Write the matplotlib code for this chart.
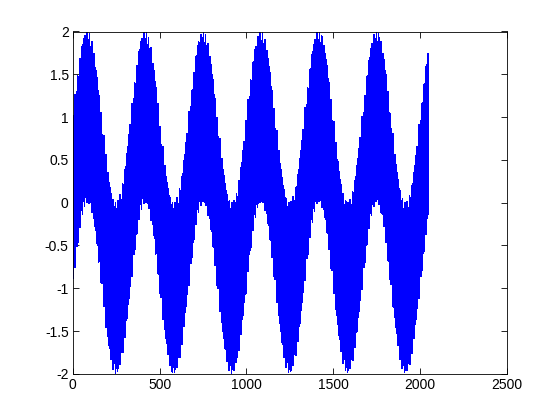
import numpy as np
import matplotlib
matplotlib.use("Agg")
import matplotlib.pyplot as plt

# Signal parameters
n_samples = 2048          # samples plotted (ends near x = 2048)
low_freq = 0.003          # cycles / sample (period ~333 samples)
low_amp = 1.0
high_freq = 0.2317        # cycles / sample (fast oscillation filling the band)
high_amp = 1.0

x_ticks = [0, 500, 1000, 1500, 2000, 2500]
x_tick_labels = ["0", "500", "1000", "1500", "2000", "2500"]
y_ticks = [-2, -1.5, -1, -0.5, 0, 0.5, 1, 1.5, 2]
y_tick_labels = ["-2", "-1.5", "-1", "-0.5", "0", "0.5", "1", "1.5", "2"]

n = np.arange(n_samples)
signal = low_amp * np.sin(2 * np.pi * low_freq * n) + high_amp * np.sin(2 * np.pi * high_freq * n)

plt.rcParams['font.family'] = ['Liberation Sans', 'DejaVu Sans']
fig = plt.figure(figsize=(5.6, 4.2), dpi=100, facecolor='white')
ax = fig.add_axes([0.13, 0.11, 0.775, 0.815])
ax.plot(n, signal, color='#0000FF', linewidth=0.45, antialiased=False)
ax.set_xlim(0, 2500)
ax.set_ylim(-2, 2)
ax.set_xticks(x_ticks)
ax.set_xticklabels(x_tick_labels)
ax.set_yticks(y_ticks)
ax.set_yticklabels(y_tick_labels)
ax.tick_params(direction='in', top=True, right=True, length=4, width=0.6, labelsize=10, pad=3)
for s in ax.spines.values():
    s.set_linewidth(0.6)
fig.savefig("out.png", dpi=100, facecolor='white')
